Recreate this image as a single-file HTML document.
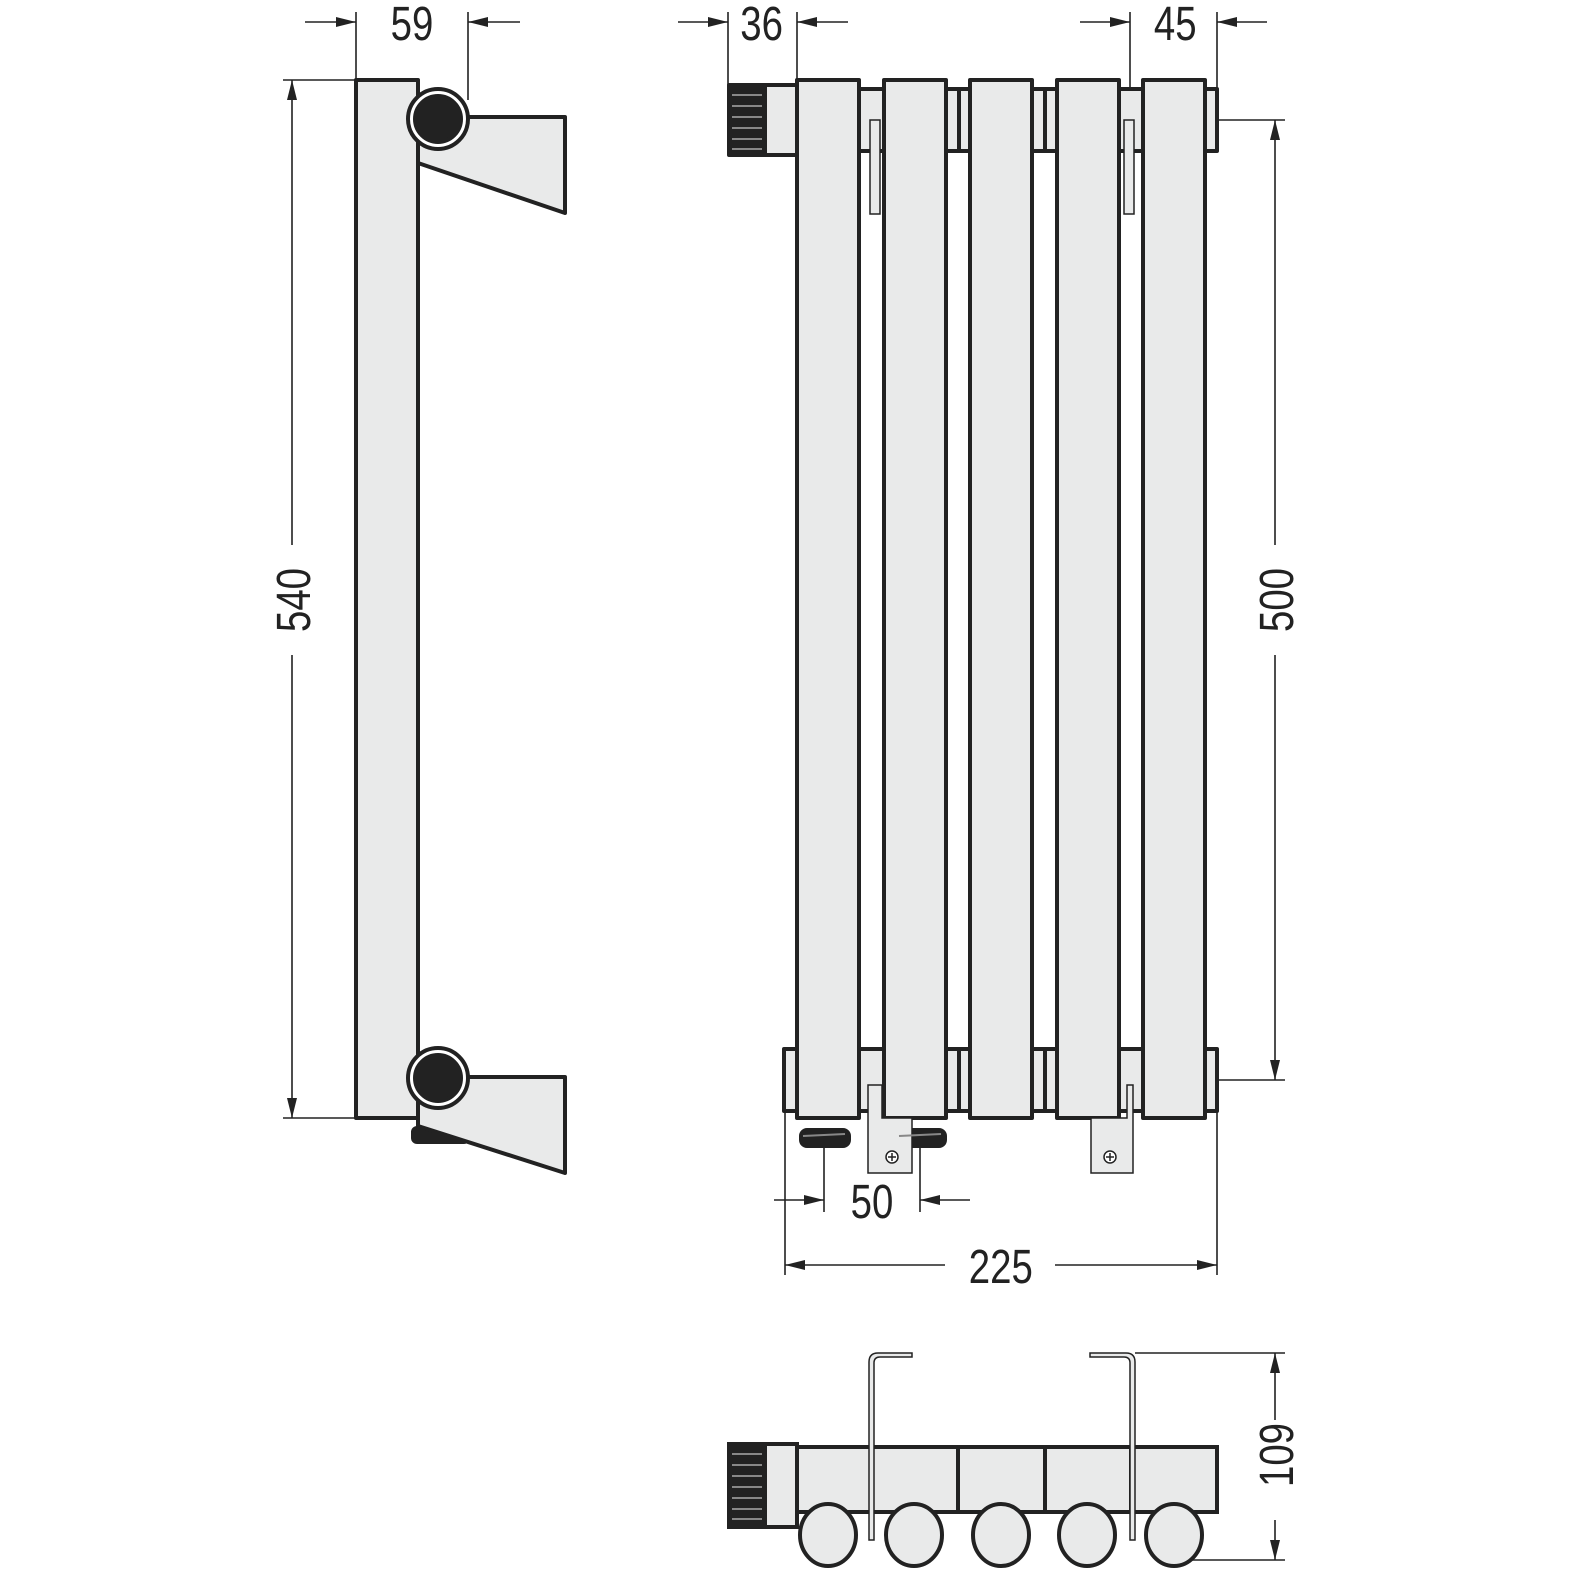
<!DOCTYPE html>
<html><head><meta charset="utf-8"><style>
html,body{margin:0;padding:0;background:#fff}
svg{display:block}
text{font-family:"Liberation Sans",sans-serif;font-size:48px;fill:#222}
</style></head><body>
<svg width="1580" height="1580" viewBox="0 0 1580 1580" xmlns="http://www.w3.org/2000/svg">
<defs>
<marker id="a" viewBox="0 0 20 10" refX="20" refY="5" markerWidth="20" markerHeight="10" markerUnits="userSpaceOnUse" orient="auto"><path d="M0,0 L20,5 L0,10 z" fill="#222"/></marker>
</defs>
<g stroke="#222" stroke-width="1.6" fill="none">
<line x1="356" y1="12" x2="356" y2="80"/><line x1="468" y1="12" x2="468" y2="100"/>
<line x1="305" y1="22" x2="356" y2="22" marker-end="url(#a)"/><line x1="520" y1="22" x2="468" y2="22" marker-end="url(#a)"/>
<line x1="728" y1="12" x2="728" y2="85"/><line x1="797" y1="12" x2="797" y2="80"/>
<line x1="678" y1="22" x2="728" y2="22" marker-end="url(#a)"/><line x1="848" y1="22" x2="797" y2="22" marker-end="url(#a)"/>
<line x1="1130" y1="12" x2="1130" y2="89"/><line x1="1217" y1="12" x2="1217" y2="89"/>
<line x1="1080" y1="22" x2="1130" y2="22" marker-end="url(#a)"/><line x1="1267" y1="22" x2="1217" y2="22" marker-end="url(#a)"/>
<line x1="283" y1="80" x2="356" y2="80"/><line x1="283" y1="1118" x2="356" y2="1118"/>
<line x1="292" y1="545" x2="292" y2="80" marker-end="url(#a)"/><line x1="292" y1="655" x2="292" y2="1118" marker-end="url(#a)"/>
<line x1="1217" y1="120" x2="1285" y2="120"/><line x1="1217" y1="1080" x2="1285" y2="1080"/>
<line x1="1275" y1="545" x2="1275" y2="120" marker-end="url(#a)"/><line x1="1275" y1="655" x2="1275" y2="1080" marker-end="url(#a)"/>
<line x1="824" y1="1140" x2="824" y2="1212"/><line x1="920" y1="1140" x2="920" y2="1212"/>
<line x1="774" y1="1200" x2="824" y2="1200" marker-end="url(#a)"/><line x1="970" y1="1200" x2="920" y2="1200" marker-end="url(#a)"/>
<line x1="785" y1="1111" x2="785" y2="1275"/><line x1="1217" y1="1111" x2="1217" y2="1275"/>
<line x1="945" y1="1265" x2="785" y2="1265" marker-end="url(#a)"/><line x1="1055" y1="1265" x2="1217" y2="1265" marker-end="url(#a)"/>
<line x1="1135" y1="1353" x2="1285" y2="1353"/><line x1="1190" y1="1560" x2="1285" y2="1560"/>
<line x1="1275" y1="1420" x2="1275" y2="1353" marker-end="url(#a)"/><line x1="1275" y1="1520" x2="1275" y2="1560" marker-end="url(#a)"/>
</g>
<g transform="scale(0.8,1)">
<text x="515" y="40" text-anchor="middle">59</text>
<text x="952" y="40" text-anchor="middle">36</text>
<text x="1469" y="40" text-anchor="middle">45</text>
<text x="1090" y="1218" text-anchor="middle">50</text>
<text x="1251" y="1283" text-anchor="middle">225</text>
</g>
<text transform="translate(310,600) rotate(-90) scale(0.8,1)" text-anchor="middle">540</text>
<text transform="translate(1293,600) rotate(-90) scale(0.8,1)" text-anchor="middle">500</text>
<text transform="translate(1293,1455) rotate(-90) scale(0.8,1)" text-anchor="middle">109</text>

<g stroke="#222" stroke-width="4" fill="#e9eaea" stroke-linejoin="round">
<rect x="356" y="80" width="62" height="1038"/>
<polygon points="418,117 565,117 565,213 418,163"/>
<rect x="413" y="1128" width="55" height="14" rx="4" fill="#222"/>
<polygon points="418,1077 565,1077 565,1173 418,1126"/>
<circle cx="438" cy="119" r="30" fill="#fff"/><circle cx="438" cy="119" r="23" fill="#222"/>
<circle cx="438" cy="1078" r="30" fill="#fff"/><circle cx="438" cy="1078" r="23" fill="#222"/>

<rect x="859" y="89" width="358" height="62"/>
<rect x="784" y="1049" width="433" height="62"/>
<rect x="763" y="85" width="34" height="70"/>
<rect x="729" y="85" width="36" height="70" fill="#222"/>
<rect x="801" y="1130" width="48" height="16" rx="6" fill="#222"/>
<rect x="897" y="1130" width="48" height="16" rx="6" fill="#222"/>
<rect x="797" y="80" width="62" height="1038"/>
<rect x="884" y="80" width="62" height="1038"/>
<rect x="970" y="80" width="62" height="1038"/>
<rect x="1057" y="80" width="62" height="1038"/>
<rect x="1143" y="80" width="62" height="1038"/>
<line x1="959" y1="89" x2="959" y2="151"/><line x1="1045" y1="89" x2="1045" y2="151"/>
<line x1="959" y1="1049" x2="959" y2="1111"/><line x1="1045" y1="1049" x2="1045" y2="1111"/>
</g>
<g stroke="#222" stroke-width="1.5" fill="#e9eaea">
<rect x="870" y="120" width="10" height="94"/>
<rect x="1124" y="120" width="10" height="94"/>
<path d="M868,1085 v88 h44 v-55 h-30 v-33 z"/>
<path d="M1091,1118 v55 h42 v-88 h-6 v33 z"/>
<circle cx="892" cy="1157" r="6" fill="#fff"/><circle cx="1110" cy="1157" r="6" fill="#fff"/>
<path d="M888,1157h8M892,1153v8M1106,1157h8M1110,1153v8"/>
</g>
<g stroke="#888" stroke-width="2">
<line x1="732" y1="95" x2="762" y2="95"/><line x1="732" y1="106" x2="762" y2="106"/><line x1="732" y1="117" x2="762" y2="117"/><line x1="732" y1="128" x2="762" y2="128"/><line x1="732" y1="139" x2="762" y2="139"/><line x1="732" y1="149" x2="762" y2="149"/>
<line x1="803" y1="1136" x2="845" y2="1134"/><line x1="899" y1="1136" x2="941" y2="1134"/>
</g>

<g stroke="#222" stroke-width="4" fill="#e9eaea">
<rect x="797" y="1447" width="420" height="65"/>
<line x1="872" y1="1447" x2="872" y2="1512"/><line x1="958" y1="1447" x2="958" y2="1512"/><line x1="1045" y1="1447" x2="1045" y2="1512"/><line x1="1131" y1="1447" x2="1131" y2="1512"/>
<rect x="763" y="1444" width="34" height="83"/>
<rect x="729" y="1444" width="36" height="83" fill="#222"/>
<ellipse cx="828" cy="1535" rx="28" ry="31"/><ellipse cx="914" cy="1535" rx="28" ry="31"/><ellipse cx="1001" cy="1535" rx="28" ry="31"/><ellipse cx="1087" cy="1535" rx="28" ry="31"/><ellipse cx="1174" cy="1535" rx="28" ry="31"/>
</g>
<g stroke="#222" stroke-width="1.5" fill="#e9eaea">
<path d="M869,1540 V1362 q0,-9 9,-9 H912 v4 H880 q-6,0 -6,6 V1540 z"/>
<path d="M1135,1540 V1362 q0,-9 -9,-9 H1090 v4 H1124 q6,0 6,6 V1540 z"/>
</g>
<g stroke="#888" stroke-width="2">
<line x1="732" y1="1454" x2="762" y2="1454"/><line x1="732" y1="1465" x2="762" y2="1465"/><line x1="732" y1="1476" x2="762" y2="1476"/><line x1="732" y1="1487" x2="762" y2="1487"/><line x1="732" y1="1498" x2="762" y2="1498"/><line x1="732" y1="1509" x2="762" y2="1509"/><line x1="732" y1="1519" x2="762" y2="1519"/>
</g>
</svg>
</body></html>
